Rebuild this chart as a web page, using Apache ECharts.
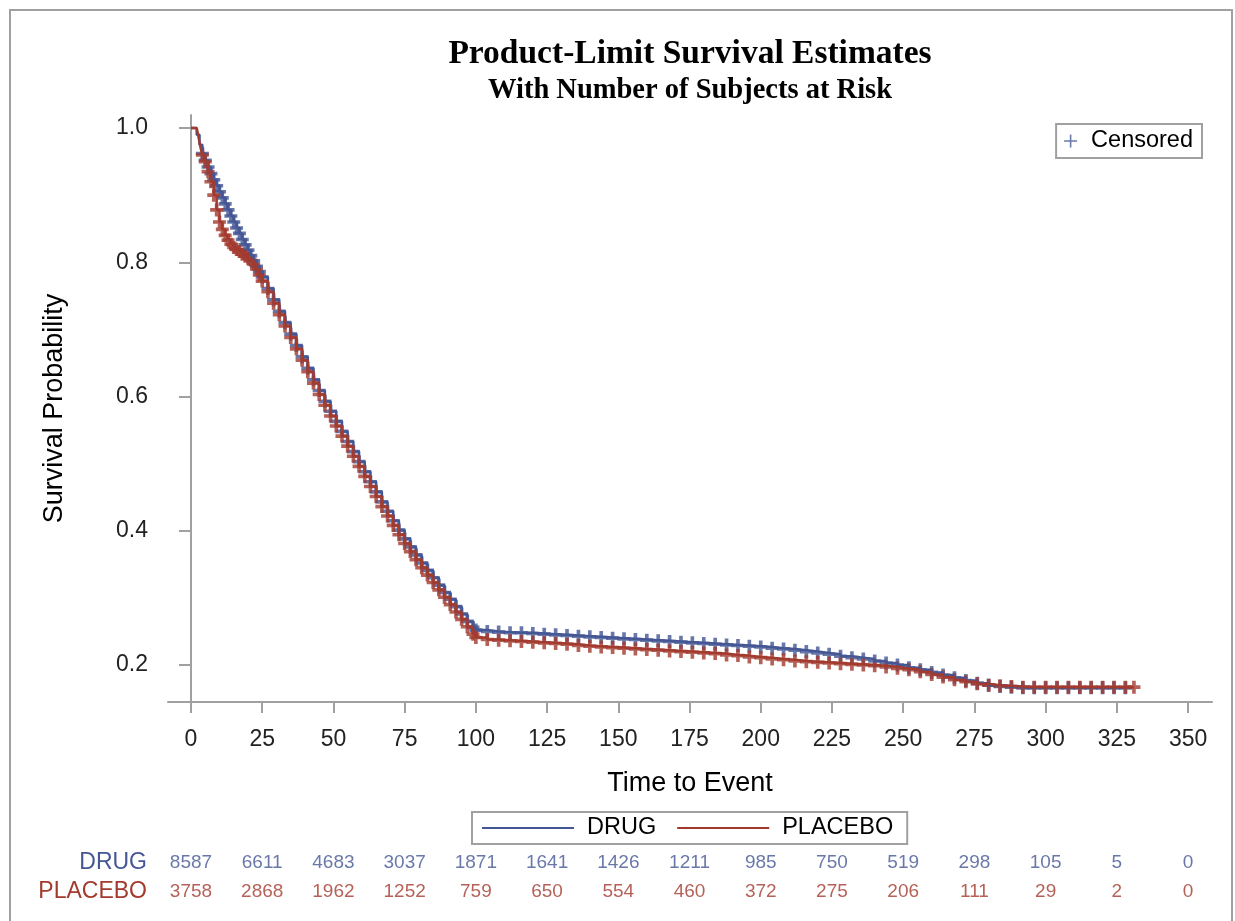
<!DOCTYPE html>
<html><head><meta charset="utf-8">
<script src="https://cdn.jsdelivr.net/npm/echarts@6/dist/echarts.min.js"></script>
<style>html,body{margin:0;padding:0;background:#fff}#c{width:1235px;height:921px}</style>
</head><body><div id="c"></div>
<script>
// ---- data ----
const groups = ['DRUG', 'PLACEBO'];
const drugCurve = [
  [0,1.000],[2,0.990],[3,0.975],[4,0.962],[5,0.952],[6,0.942],[7,0.932],[8,0.923],[9,0.914],[10,0.905],
  [11,0.896],[12,0.887],[13,0.878],[14,0.869],[15,0.860],[16,0.851],[17,0.843],[18,0.834],[19,0.826],[20,0.818],
  [21,0.810],[22,0.802],[23,0.794],[24,0.786],[25,0.778],[27,0.761],[29,0.744],[31,0.727],[33,0.710],[35,0.693],
  [37,0.676],[39,0.659],[41,0.642],[43,0.625],[45,0.609],[47,0.593],[49,0.578],[51,0.563],[53,0.548],[55,0.533],
  [57,0.518],[59,0.503],[61,0.488],[63,0.473],[65,0.458],[67,0.443],[69,0.429],[71,0.415],[73,0.401],[75,0.388],
  [77,0.376],[79,0.364],[81,0.352],[83,0.341],[85,0.330],[87,0.319],[89,0.308],[91,0.298],[93,0.287],[95,0.276],
  [97,0.265],[99,0.256],[100,0.252],[104,0.250],[108,0.249],[112,0.248],[116,0.248],[120,0.247],[124,0.246],[128,0.245],
  [132,0.244],[136,0.243],[140,0.242],[144,0.241],[148,0.240],[152,0.239],[156,0.238],[160,0.237],[164,0.236],[168,0.235],
  [172,0.234],[176,0.233],[180,0.232],[184,0.231],[188,0.230],[192,0.229],[196,0.228],[200,0.227],[204,0.225],[208,0.224],
  [212,0.222],[216,0.220],[220,0.218],[224,0.216],[228,0.213],[232,0.211],[236,0.209],[240,0.206],[244,0.203],[248,0.200],
  [252,0.196],[256,0.193],[260,0.189],[264,0.185],[268,0.181],[272,0.177],[276,0.173],[280,0.170],[284,0.168],[288,0.167],
  [292,0.166],[296,0.166],[300,0.166],[304,0.166],[308,0.166],[312,0.166],[316,0.166],[320,0.166],[324,0.166],[328,0.166]
];
const placeboCurve = [
  [0,1.000],[2,1.000],[2.5,0.990],[3,0.978],[3.5,0.968],[4,0.960],[5,0.950],[6,0.935],[7,0.920],[8,0.900],
  [9,0.878],[10,0.860],[11,0.849],[12,0.840],[13,0.833],[14,0.827],[15,0.822],[16,0.819],[17,0.816],[18,0.812],
  [19,0.809],[20,0.806],[21,0.803],[22,0.797],[23,0.790],[24,0.781],[25,0.772],[27,0.756],[29,0.739],[31,0.722],
  [33,0.705],[35,0.688],[37,0.671],[39,0.654],[41,0.637],[43,0.620],[45,0.603],[47,0.587],[49,0.571],[51,0.556],
  [53,0.541],[55,0.526],[57,0.511],[59,0.496],[61,0.481],[63,0.466],[65,0.451],[67,0.436],[69,0.422],[71,0.408],
  [73,0.394],[75,0.381],[77,0.369],[79,0.357],[81,0.345],[83,0.334],[85,0.323],[87,0.312],[89,0.301],[91,0.290],
  [93,0.279],[95,0.268],[97,0.257],[99,0.246],[100,0.241],[104,0.238],[108,0.237],[112,0.236],[116,0.235],[120,0.234],
  [124,0.233],[128,0.232],[132,0.231],[136,0.229],[140,0.228],[144,0.227],[148,0.226],[152,0.225],[156,0.224],[160,0.223],
  [164,0.222],[168,0.221],[172,0.220],[176,0.219],[180,0.218],[184,0.217],[188,0.215],[192,0.214],[196,0.212],[200,0.211],
  [204,0.209],[208,0.208],[212,0.206],[216,0.205],[220,0.204],[224,0.203],[228,0.202],[232,0.201],[236,0.200],[240,0.199],
  [244,0.197],[248,0.195],[252,0.193],[256,0.190],[260,0.186],[264,0.182],[268,0.178],[272,0.175],[276,0.172],[280,0.170],
  [284,0.169],[288,0.168],[292,0.167],[296,0.167],[300,0.167],[304,0.167],[308,0.167],[312,0.167],[316,0.167],[320,0.167],
  [324,0.167],[328,0.167],[331,0.167]
];
const censorFrom = 4; // censor marks are shown from this time on
const riskTimes = [0,25,50,75,100,125,150,175,200,225,250,275,300,325,350];
const drugAtRisk = [8587,6611,4683,3037,1871,1641,1426,1211,985,750,519,298,105,5,0];
const placeboAtRisk = [3758,2868,1962,1252,759,650,554,460,372,275,206,111,29,2,0];
const xTicks = [0,25,50,75,100,125,150,175,200,225,250,275,300,325,350];
const yTicks = [0.2,0.4,0.6,0.8,1.0];

// ---- chart ----
const BLUE = '#445694', RED = '#A23A2E', AXIS = '#a0a0a0';
const SANS = 'Liberation Sans, Arial, sans-serif';
const PLUS = 'path://M3.6,0H6.4V3.6H10V6.4H6.4V10H3.6V6.4H0V3.6H3.6Z';
const PLUS_THIN = 'path://M4.4,0H5.6V4.4H10V5.6H5.6V10H4.4V5.6H0V4.4H4.4Z';
const X_MIN = -8.07, X_MAX = 358.4, Y_MIN = 0.1449, Y_MAX = 1.0194;

const chart = echarts.init(document.getElementById('c'), null, {renderer: 'canvas'});
const riskSeries = (name, counts, color) => ({
  type: 'scatter', name: name + ' at risk', xAxisIndex: 1, yAxisIndex: 1,
  symbolSize: 1, itemStyle: {color: 'rgba(0,0,0,0)'}, silent: true,
  data: riskTimes.map((t, i) => [t, name, counts[i]]),
  label: {show: true, position: 'inside', formatter: p => String(p.value[2]),
          color: color, fontSize: 19, fontFamily: SANS}
});

chart.setOption({
  animation: false,
  backgroundColor: '#fff',
  title: [
    {text: 'Product-Limit Survival Estimates', left: 690, textAlign: 'center', top: 37, padding: 0,
     textStyle: {fontFamily: 'Liberation Serif, Times New Roman, serif', fontWeight: 'bold', fontSize: 33.5, color: '#000'}},
    {text: 'With Number of Subjects at Risk', left: 690, textAlign: 'center', top: 76, padding: 0,
     textStyle: {fontFamily: 'Liberation Serif, Times New Roman, serif', fontWeight: 'bold', fontSize: 28.5, color: '#000'}}
  ],
  graphic: [{type: 'rect', shape: {x: 10, y: 10, width: 1222, height: 940},
             style: {fill: 'none', stroke: AXIS, lineWidth: 2}, silent: true}],
  legend: [
    {data: [{name: 'DRUG', icon: 'rect'}, {name: 'PLACEBO', icon: 'rect'}],
     left: 472, top: 812, itemWidth: 92, itemHeight: 2, itemGap: 21, orient: 'horizontal',
     padding: [4, 14, 4, 10], borderColor: AXIS, borderWidth: 2, selectedMode: false,
     textStyle: {fontSize: 23.5, fontFamily: SANS, color: '#000', padding: [0, 0, 0, 8]}},
    {data: [{name: 'Censored', icon: PLUS_THIN, itemStyle: {color: BLUE}}],
     right: 33, top: 124, itemWidth: 13, itemHeight: 13, padding: [5, 9, 5, 8],
     borderColor: AXIS, borderWidth: 2, selectedMode: false,
     textStyle: {fontSize: 23.5, fontFamily: SANS, color: '#000', padding: [0, 0, 0, 9]}}
  ],
  grid: [
    {left: 168, right: 23, top: 115, height: 587},
    {left: 168, right: 23, top: 848, height: 58}
  ],
  xAxis: [
    {type: 'value', gridIndex: 0, min: X_MIN, max: X_MAX,
     axisLine: {lineStyle: {color: AXIS, width: 2}},
     axisTick: {customValues: xTicks, length: 11, lineStyle: {color: AXIS, width: 2}},
     axisLabel: {customValues: xTicks, fontSize: 23, fontFamily: SANS, color: '#222', margin: 26},
     splitLine: {show: false},
     name: 'Time to Event', nameLocation: 'middle', nameGap: 68,
     nameTextStyle: {fontSize: 27, fontFamily: SANS, color: '#000'}},
    {type: 'value', gridIndex: 1, min: X_MIN, max: X_MAX, show: false}
  ],
  yAxis: [
    {type: 'value', gridIndex: 0, min: Y_MIN, max: Y_MAX,
     axisLine: {show: true, lineStyle: {color: AXIS, width: 2}},
     axisTick: {show: true, customValues: yTicks, length: 12, lineStyle: {color: AXIS, width: 2}},
     axisLabel: {customValues: yTicks, formatter: v => v.toFixed(1), fontSize: 23, fontFamily: SANS, color: '#222', margin: 20},
     splitLine: {show: false},
     name: 'Survival Probability', nameLocation: 'middle', nameGap: 100, nameRotate: 90,
     nameTextStyle: {fontSize: 27, fontFamily: SANS, color: '#000'}},
    {type: 'category', gridIndex: 1, data: groups, inverse: true,
     axisLine: {show: false}, axisTick: {show: false}, splitLine: {show: false},
     axisLabel: {interval: 0, margin: 21, fontSize: 23, fontFamily: SANS,
                 formatter: v => '{' + v + '|' + v + '}',
                 rich: {DRUG: {color: BLUE, fontSize: 23, fontFamily: SANS},
                        PLACEBO: {color: RED, fontSize: 23, fontFamily: SANS}}}}
  ],
  series: [
    {type: 'line', name: 'DRUG', data: drugCurve, step: 'end', showSymbol: false,
     lineStyle: {color: BLUE, width: 2.5}, itemStyle: {color: BLUE}, silent: true},
    {type: 'scatter', name: 'Censored', data: drugCurve.filter(d => d[0] >= censorFrom),
     symbol: PLUS, symbolSize: 13, itemStyle: {color: BLUE}, silent: true},
    {type: 'line', name: 'PLACEBO', data: placeboCurve, step: 'end', showSymbol: false,
     lineStyle: {color: RED, width: 2.5}, itemStyle: {color: RED}, silent: true},
    {type: 'scatter', name: 'Censored', data: placeboCurve.filter(d => d[0] >= censorFrom),
     symbol: PLUS, symbolSize: 13, itemStyle: {color: RED}, silent: true},
    riskSeries('DRUG', drugAtRisk, BLUE),
    riskSeries('PLACEBO', placeboAtRisk, RED)
  ]
});
</script></body></html>
